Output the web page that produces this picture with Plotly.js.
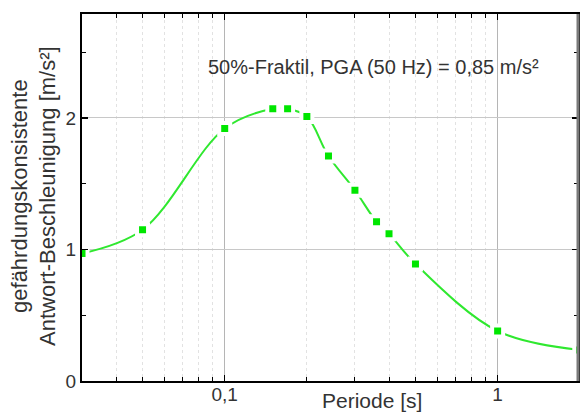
<!DOCTYPE html>
<html>
<head>
<meta charset="utf-8">
<script src="https://cdn.plot.ly/plotly-3.0.1.min.js"></script>
<style>html,body{margin:0;padding:0;background:#fff}#chart{width:582px;height:414px}</style>
</head>
<body>
<div id="chart"></div>
<script>
// Data
const periods = [0.03, 0.05, 0.1, 0.15, 0.17, 0.2, 0.24, 0.3, 0.36, 0.4, 0.5, 1.0, 2.0];
const accel   = [0.97, 1.15, 1.92, 2.07, 2.07, 2.01, 1.71, 1.45, 1.21, 1.12, 0.89, 0.38, 0.236];

const xMajorTicks = [0.1, 1];
const xMajorLabels = ['0,1', '1'];
const xMinorTicks = [0.04, 0.05, 0.06, 0.07, 0.08, 0.09, 0.2, 0.3, 0.4, 0.5, 0.6, 0.7, 0.8, 0.9];
const yMajorTicks = [0, 1, 2];
const yMajorLabels = ['0', '1', '2'];

const annotationText = '50%-Fraktil, PGA (50 Hz) = 0,85 m/s²';
const xTitle = 'Periode [s]';
const yTitle = 'gefährdungskonsistente<br>Antwort-Beschleunigung [m/s²]';

const FONT = 'Liberation Sans, Arial, sans-serif';
const TXT = '#333333';

const trace = {
  x: periods, y: accel, type: 'scatter', mode: 'lines+markers',
  line: {color: '#2fe82f', width: 2, shape: 'spline', smoothing: 1.0},
  marker: {symbol: 'square', size: 11, color: '#00e600', line: {color: '#ffffff', width: 4}},
  cliponaxis: true, hoverinfo: 'skip'
};

const layout = {
  width: 582, height: 414,
  margin: {l: 82, r: 4, t: 14, b: 33},
  paper_bgcolor: '#ffffff', plot_bgcolor: '#ffffff',
  showlegend: false,
  font: {family: FONT, color: TXT, size: 19},
  xaxis: {
    type: 'log', range: [Math.log10(0.03), Math.log10(1.97)],
    tickmode: 'array', tickvals: xMajorTicks, ticktext: xMajorLabels,
    ticks: 'inside', ticklen: 6, tickwidth: 1.5, tickcolor: '#000',
    ticklabelstandoff: -5,
    showline: true, linecolor: '#000', linewidth: 2, mirror: 'ticks',
    showgrid: true, gridcolor: '#b5b5b5', gridwidth: 1,
    zeroline: false,
    tickfont: {family: FONT, size: 19, color: TXT},
    minor: {tickvals: xMinorTicks, ticks: 'inside', ticklen: 4, tickwidth: 1, tickcolor: '#000',
            showgrid: true, gridcolor: '#e2e2e2', griddash: 'dot', gridwidth: 1}
  },
  yaxis: {
    range: [0, 2.79],
    tickmode: 'array', tickvals: yMajorTicks, ticktext: yMajorLabels,
    ticks: 'inside', ticklen: 6, tickwidth: 1.5, tickcolor: '#000',
    showline: true, linecolor: '#000', linewidth: 2, mirror: 'ticks',
    showgrid: true, gridcolor: '#c8c8c8', gridwidth: 1,
    zeroline: false,
    tickfont: {family: FONT, size: 19, color: TXT},
    minor: {dtick: 0.5, ticks: 'inside', ticklen: 4, tickwidth: 1, tickcolor: '#000', showgrid: false}
  },
  shapes: [
    {type: 'line', xref: 'paper', yref: 'paper', x0: 1, x1: 1, y0: 0, y1: 1,
     line: {color: '#7a7a7a', width: 3}}
  ],
  annotations: [
    {text: annotationText, xref: 'paper', yref: 'paper', x: 0.588, y: 0.856,
     xanchor: 'center', yanchor: 'middle', showarrow: false,
     font: {family: FONT, size: 20, color: TXT}},
    {text: xTitle, xref: 'paper', yref: 'paper', x: 0.584, y: -0.053,
     xanchor: 'center', yanchor: 'middle', showarrow: false,
     font: {family: FONT, size: 21, color: TXT}},
    {text: yTitle, xref: 'paper', yref: 'paper', x: -0.097, y: 0.504,
     xanchor: 'center', yanchor: 'middle', showarrow: false, textangle: -90,
     font: {family: FONT, size: 22, color: TXT}}
  ]
};

Plotly.newPlot('chart', [trace], layout, {displayModeBar: false, staticPlot: true});
</script>
</body>
</html>
